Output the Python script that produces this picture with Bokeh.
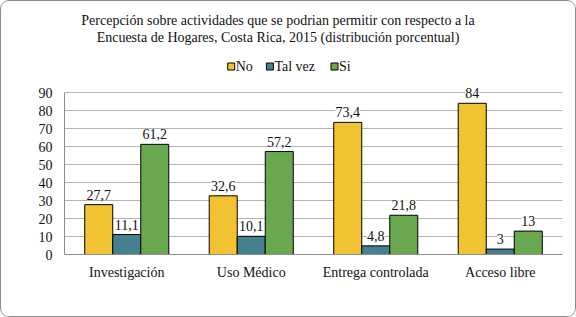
from bokeh.plotting import figure
from bokeh.models import ColumnDataSource, FactorRange, Range1d, Label, LabelSet
from bokeh.transform import dodge
from bokeh.embed import file_html
from bokeh.resources import INLINE

categories = ["Investigación", "Uso Médico", "Entrega controlada", "Acceso libre"]
series_names = ["No", "Tal vez", "Si"]
no_vals = [27.7, 32.6, 73.4, 84]
talvez_vals = [11.1, 10.1, 4.8, 3]
si_vals = [61.2, 57.2, 21.8, 13]
y_ticks = [0, 10, 20, 30, 40, 50, 60, 70, 80, 90]
title_lines = [
    "Percepción sobre actividades  que se podrian permitir  con respecto a la",
    "Encuesta de Hogares, Costa Rica, 2015  (distribución  porcentual)",
]
colors = ["#F1C232", "#44808D", "#6AA84F"]

FONT = "Liberation Serif"
W, H = 576, 317

# layout helpers: page pixel -> plot coordinates (frame: x 64..562, y 0 at 254, 1.8 px per unit)
X0, XPX = 64.0, 124.5
Y0, YPX = 254.0, 1.8


def px2x(px):
    return (px - X0) / XPX


def py2y(py):
    return (Y0 - py) / YPX


def fmt(v):
    return ("%g" % v).replace(".", ",")


p = figure(x_range=FactorRange(*categories), y_range=Range1d(0, py2y(1)),
           width=W, height=H, output_backend="svg", toolbar_location=None,
           min_border_left=63, min_border_right=15, min_border_top=0, min_border_bottom=64)
p.styles = {"border": "1px solid #8c8c8c", "border-radius": "9px", "box-sizing": "border-box",
            "overflow": "hidden"}

bw = 0.225
offsets = [-bw, 0.0, bw]
all_vals = [no_vals, talvez_vals, si_vals]
for name, vals, col, off in zip(series_names, all_vals, colors, offsets):
    src = ColumnDataSource(dict(x=categories, top=vals, label=[fmt(v) for v in vals]))
    p.vbar(x=dodge("x", off, range=p.x_range), top="top", width=bw, source=src,
           fill_color=col, line_color="black", line_width=1)
    p.add_layout(LabelSet(x=dodge("x", off, range=p.x_range), y="top", text="label", source=src,
                          y_offset=5, text_align="center", text_baseline="bottom",
                          background_fill_color="white",
                          text_font=FONT, text_font_size="14px", text_color="#111111"))

# legend (manual, above the plot area)
leg_sq_px = [230.7, 269.4, 334.0]
leg_y = py2y(66)
leg_src = ColumnDataSource(dict(x=[px2x(v) for v in leg_sq_px], y=[leg_y] * 3,
                                tx=[px2x(v + 4.5) for v in leg_sq_px], name=series_names, color=colors))
p.scatter(x="x", y="y", marker="square", size=7, fill_color="color", line_color="black",
          line_width=1, source=leg_src)
p.text(x="tx", y="y", text="name", source=leg_src, text_baseline="middle", text_align="left",
       text_font=FONT, text_font_size="14px", text_color="#111111")

for i, t in enumerate(title_lines):
    p.add_layout(Label(x=px2x(281), y=py2y(19.5 + 17 * i), text=t, text_align="center",
                       text_baseline="middle", text_font=FONT, text_font_size="14px",
                       text_color="#111111"))

p.yaxis.ticker = y_ticks
p.yaxis.bounds = (0, 90)
for ax in (p.xaxis[0], p.yaxis[0]):
    ax.axis_line_color = "#8c8c8c"
    ax.major_tick_line_color = None
    ax.minor_tick_line_color = None
    ax.major_tick_in = 0
    ax.major_tick_out = 0
    ax.major_label_text_font = FONT
    ax.major_label_text_font_size = "14px"
    ax.major_label_text_color = "#111111"
p.yaxis.major_label_standoff = 12
p.xaxis.major_label_standoff = 10
p.xgrid.grid_line_color = None
p.ygrid.grid_line_color = "#b3b3b3"
p.outline_line_color = None

open("out.html", "w").write(file_html(p, INLINE))
